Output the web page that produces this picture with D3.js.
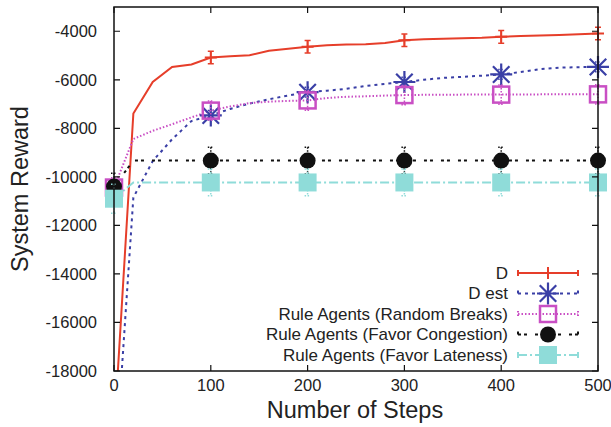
<!DOCTYPE html>
<html>
<head>
<meta charset="utf-8">
<script src="https://cdn.jsdelivr.net/npm/d3@7"></script>
<style>
  body { margin: 0; background: #fff; }
  text { font-family: "Liberation Sans", Arial, sans-serif; fill: #222; }
</style>
</head>
<body>
<div id="chart"></div>
<script>
// steps along the x axis
var steps = [0, 20, 40, 60, 80, 100, 120, 140, 160, 180, 200, 220, 240, 260, 280, 300,
             320, 340, 360, 380, 400, 420, 440, 460, 480, 500];

var dValues = [-20650, -7390, -6090, -5470, -5370, -5080, -5030, -4990, -4800, -4720, -4640,
               -4580, -4550, -4530, -4480, -4370, -4330, -4310, -4290, -4270, -4230,
               -4200, -4170, -4150, -4120, -4090];
var dEstValues = [-22770, -10850, -9350, -8450, -7700, -7470, -7200, -6980, -6800, -6650, -6510,
                  -6450, -6370, -6250, -6170, -6090, -6000, -5920, -5880, -5830, -5780,
                  -5680, -5560, -5500, -5480, -5470];
var randomValues = [-10440, -8440, -8100, -7830, -7550, -7270, -7100, -6960, -6900, -6870, -6850,
                    -6750, -6700, -6680, -6650, -6630, -6620, -6620, -6610, -6610, -6610,
                    -6610, -6600, -6600, -6600, -6600];
var congestionValues = [-10400, -9330, -9330, -9330, -9330, -9330, -9330, -9330, -9330, -9330, -9330,
                        -9330, -9330, -9330, -9330, -9330, -9330, -9330, -9330, -9330, -9330,
                        -9330, -9330, -9330, -9330, -9330];
var latenessValues = [-10900, -10230, -10230, -10230, -10230, -10230, -10230, -10230, -10230, -10230, -10230,
                      -10230, -10230, -10230, -10230, -10230, -10230, -10230, -10230, -10230, -10230,
                      -10230, -10230, -10230, -10230, -10230];

// error bars only at the marked steps
var markSteps = [0, 100, 200, 300, 400, 500];
var dErr = [300, 260, 260, 260, 260, 260];
var dEstErr = [200, 200, 200, 200, 200, 200];
var randomErr = [400, 400, 400, 400, 400, 400];
var congestionErr = [550, 550, 550, 550, 550, 550];
var latenessErr = [600, 550, 550, 550, 550, 550];

var seriesNames = ["D", "D est", "Rule Agents (Random Breaks)",
                   "Rule Agents (Favor Congestion)", "Rule Agents (Favor Lateness)"];

var xTicks = [0, 100, 200, 300, 400, 500];
var yTicks = [-18000, -16000, -14000, -12000, -10000, -8000, -6000, -4000];

var W = 611, H = 427;
var margin = {top: 7, right: 13, bottom: 56, left: 114};
var width = W - margin.left - margin.right;
var height = H - margin.top - margin.bottom;

var series = [
  {name: seriesNames[0], values: dValues, err: dErr, color: "#e63e2a", dash: null, marker: "plus"},
  {name: seriesNames[1], values: dEstValues, err: dEstErr, color: "#3a3fa6", dash: "3,4", marker: "star"},
  {name: seriesNames[2], values: randomValues, err: randomErr, color: "#c94fc4", dash: "1.5,2", marker: "square"},
  {name: seriesNames[3], values: congestionValues, err: congestionErr, color: "#111111", dash: "3,3,3,8", marker: "circle"},
  {name: seriesNames[4], values: latenessValues, err: latenessErr, color: "#8fdcd9", dash: "9,3,2,3", marker: "fsquare"}
];

var svg = d3.select("#chart").append("svg")
  .attr("width", W)
  .attr("height", H);

var g = svg.append("g")
  .attr("transform", "translate(" + margin.left + "," + margin.top + ")");

var x = d3.scaleLinear().domain([0, 500]).range([0, width]);
var y = d3.scaleLinear().domain([-18000, -3000]).range([height, 0]);

g.append("clipPath").attr("id", "plot-clip")
  .append("rect").attr("width", width).attr("height", height);

// lines
var line = d3.line()
  .x(function(d) { return x(d[0]); })
  .y(function(d) { return y(d[1]); });

series.forEach(function(s) {
  g.append("path")
    .datum(steps.map(function(st, i) { return [st, s.values[i]]; }))
    .attr("clip-path", "url(#plot-clip)")
    .attr("fill", "none")
    .attr("stroke", s.color)
    .attr("stroke-width", 2)
    .attr("stroke-dasharray", s.dash)
    .attr("d", line);
});

function drawMarker(sel, s, cx, cy, legend) {
  if (s.marker === "plus") {
    sel.append("path").attr("d", "M" + (cx - 6) + "," + cy + "H" + (cx + 6) + "M" + cx + "," + (cy - 6) + "V" + (cy + 6))
      .attr("stroke", s.color).attr("stroke-width", 2);
  } else if (s.marker === "star") {
    var r = 11;
    var p = "M" + (cx - r) + "," + cy + "H" + (cx + r) +
            "M" + cx + "," + (cy - r) + "V" + (cy + r) +
            "M" + (cx - r * 0.75) + "," + (cy - r * 0.75) + "L" + (cx + r * 0.75) + "," + (cy + r * 0.75) +
            "M" + (cx - r * 0.75) + "," + (cy + r * 0.75) + "L" + (cx + r * 0.75) + "," + (cy - r * 0.75);
    sel.append("path").attr("d", p).attr("stroke", s.color).attr("stroke-width", 2.2);
  } else if (s.marker === "square") {
    sel.append("rect").attr("x", cx - 8).attr("y", cy - 8).attr("width", 16).attr("height", 16)
      .attr("fill", "none").attr("stroke", s.color).attr("stroke-width", 2.5);
  } else if (s.marker === "circle") {
    sel.append("circle").attr("cx", cx).attr("cy", cy).attr("r", 8).attr("fill", s.color);
  } else if (s.marker === "fsquare") {
    sel.append("rect").attr("x", cx - 9).attr("y", cy - 9).attr("width", 18).attr("height", 18)
      .attr("fill", s.color);
  }
}

// error bars and markers
series.forEach(function(s) {
  var mg = g.append("g");
  markSteps.forEach(function(st, j) {
    var v = s.values[steps.indexOf(st)];
    if (v < y.domain()[0]) return;
    var cx = x(st), y1 = y(v + s.err[j]), y2 = y(v - s.err[j]);
    mg.append("path")
      .attr("d", "M" + cx + "," + y1 + "V" + y2 +
                 "M" + (cx - 3) + "," + y1 + "H" + (cx + 3) +
                 "M" + (cx - 3) + "," + y2 + "H" + (cx + 3))
      .attr("stroke", s.color)
      .attr("stroke-width", 1.5)
      .attr("stroke-dasharray", s.dash ? "1.5,1.5" : null);
  });
  markSteps.forEach(function(st) {
    var v = s.values[steps.indexOf(st)];
    if (v < y.domain()[0]) return;
    drawMarker(mg, s, x(st), y(v));
  });
});

// frame and ticks (gnuplot style, mirrored inward)
g.append("rect").attr("width", width).attr("height", height)
  .attr("fill", "none").attr("stroke", "#111").attr("stroke-width", 1.5);

var tickLen = 6;
xTicks.forEach(function(t) {
  g.append("path").attr("d", "M" + x(t) + "," + height + "v" + (-tickLen) + "M" + x(t) + ",0v" + tickLen)
    .attr("stroke", "#111").attr("stroke-width", 1.2);
  g.append("text").attr("x", x(t)).attr("y", height + 20)
    .attr("text-anchor", "middle").attr("font-size", 16.5).text(t);
});
yTicks.forEach(function(t) {
  g.append("path").attr("d", "M0," + y(t) + "h" + tickLen + "M" + width + "," + y(t) + "h" + (-tickLen))
    .attr("stroke", "#111").attr("stroke-width", 1.2);
  g.append("text").attr("x", -17).attr("y", y(t)).attr("dy", "0.35em")
    .attr("text-anchor", "end").attr("font-size", 16.5).text(t);
});

// axis titles
svg.append("text").attr("x", margin.left + width / 2 - 1).attr("y", 418)
  .attr("text-anchor", "middle").attr("font-size", 23.5).text("Number of Steps");
svg.append("text").attr("transform", "translate(28," + (margin.top + height / 2) + ") rotate(-90)")
  .attr("text-anchor", "middle").attr("font-size", 23.5).text("System Reward");

// legend
var legend = g.append("g").attr("transform", "translate(0," + 266 + ")");
series.forEach(function(s, i) {
  var ly = i * 20.5;
  legend.append("text").attr("x", 394).attr("y", ly).attr("dy", "0.35em")
    .attr("text-anchor", "end").attr("font-size", 17).text(s.name);
  legend.append("path")
    .attr("d", "M404," + ly + "H464" + "M404," + (ly - 3) + "v6" + "M464," + (ly - 3) + "v6")
    .attr("stroke", s.color).attr("stroke-width", 2)
    .attr("stroke-dasharray", s.dash);
  drawMarker(legend, s, 434, ly);
});
</script>
</body>
</html>
